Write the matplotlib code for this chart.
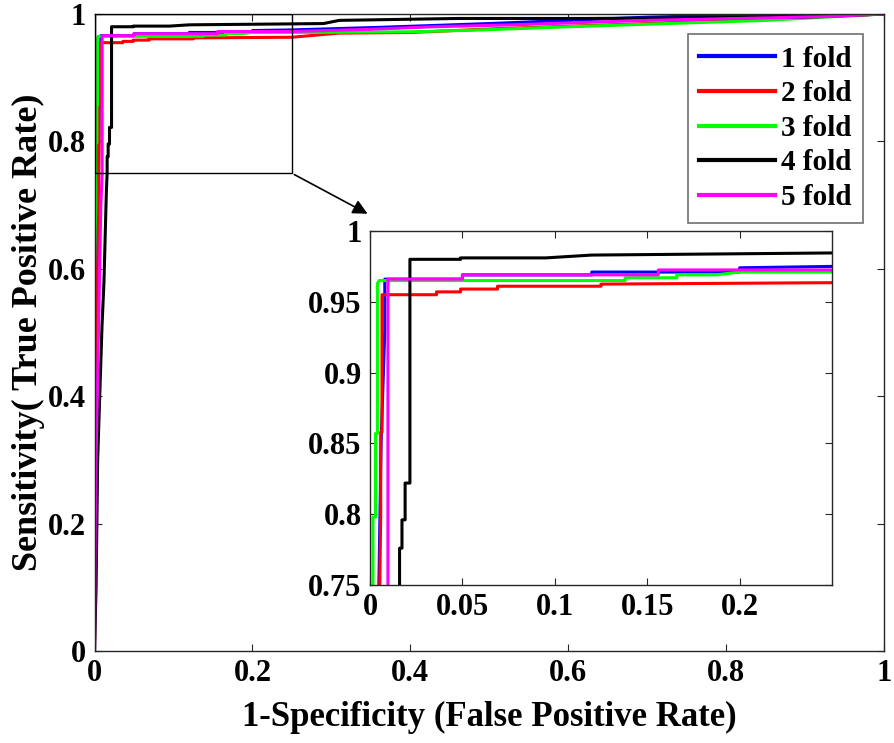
import matplotlib
matplotlib.use("Agg")
import matplotlib.pyplot as plt
from matplotlib.patches import Rectangle

plt.rcParams['font.family'] = ['Liberation Serif', 'DejaVu Serif']
plt.rcParams['font.weight'] = 'bold'

fold_labels = ['1 fold', '2 fold', '3 fold', '4 fold', '5 fold']
fold_colors = ['#0000ff', '#ff0000', '#00ff00', '#000000', '#ff00ff']

fpr_1 = [0, 0.001, 0.003, 0.006, 0.008, 0.008, 0.05, 0.05, 0.12, 0.12, 0.2, 0.2, 0.25, 0.36, 0.5, 0.7, 0.8, 1.0]
tpr_1 = [0, 0.3, 0.6, 0.85, 0.93, 0.966, 0.966, 0.969, 0.969, 0.971, 0.971, 0.974, 0.975, 0.979, 0.985, 0.995, 0.998, 1.0]

fpr_2 = [0, 0.001, 0.003, 0.005, 0.0058, 0.0058, 0.0065, 0.0065, 0.036, 0.036, 0.049, 0.049, 0.069, 0.069, 0.125, 0.125, 0.25, 0.31, 0.40, 0.51, 0.7, 0.9, 1.0]
tpr_2 = [0, 0.15, 0.5, 0.72, 0.8, 0.858, 0.858, 0.955, 0.955, 0.957, 0.957, 0.959, 0.959, 0.961, 0.961, 0.9625, 0.9635, 0.97, 0.971, 0.977, 0.985, 0.995, 1.0]

fpr_3 = [0, 0, 0.0016, 0.0016, 0.003, 0.003, 0.004, 0.004, 0.005, 0.138, 0.138, 0.166, 0.166, 0.187, 0.2, 0.25, 0.4, 0.49, 0.6, 0.85, 1.0]
tpr_3 = [0, 0.6, 0.7, 0.798, 0.798, 0.857, 0.857, 0.963, 0.965, 0.965, 0.967, 0.967, 0.969, 0.969, 0.971, 0.971, 0.972, 0.975, 0.98, 0.99, 1.0]

fpr_4 = [0, 0.002, 0.004, 0.0095, 0.012, 0.015, 0.016, 0.016, 0.0173, 0.0173, 0.019, 0.019, 0.0216, 0.0216, 0.049, 0.049, 0.095, 0.12, 0.25, 0.29, 0.31, 0.46, 0.62, 0.9, 1.0]
tpr_4 = [0, 0.1, 0.3, 0.51, 0.58, 0.72, 0.75, 0.776, 0.776, 0.796, 0.796, 0.822, 0.822, 0.98, 0.98, 0.981, 0.981, 0.983, 0.9845, 0.985, 0.99, 0.993, 0.993, 0.995, 1.0]

fpr_5 = [0, 0.001, 0.002, 0.005, 0.008, 0.0097, 0.0097, 0.05, 0.05, 0.156, 0.156, 0.25, 0.35, 0.43, 0.53, 0.70, 0.93, 1.0]
tpr_5 = [0, 0.2, 0.3, 0.5, 0.7, 0.75, 0.966, 0.966, 0.969, 0.969, 0.9725, 0.9725, 0.976, 0.98, 0.983, 0.99, 0.996, 1.0]

fprs = [fpr_1, fpr_2, fpr_3, fpr_4, fpr_5]
tprs = [tpr_1, tpr_2, tpr_3, tpr_4, tpr_5]

main_ticks = [0, 0.2, 0.4, 0.6, 0.8, 1]
main_ticklabels = ['0', '0.2', '0.4', '0.6', '0.8', '1']
inset_xticks = [0, 0.05, 0.1, 0.15, 0.2]
inset_xticklabels = ['0', '0.05', '0.1', '0.15', '0.2']
inset_yticks = [0.75, 0.8, 0.85, 0.9, 0.95, 1]
inset_yticklabels = ['0.75', '0.8', '0.85', '0.9', '0.95', '1']

W, H = 894, 743
fig = plt.figure(figsize=(W / 100, H / 100), dpi=100)

def px_axes(l, r, t, b):
    return [l / W, 1 - b / H, (r - l) / W, (b - t) / H]

spine_col = '#262626'
fs = 22

def style(ax):
    for s in ax.spines.values():
        s.set_color(spine_col)
        s.set_linewidth(1.0)
    ax.tick_params(direction='in', top=True, right=True, length=5, width=0.8,
                   color=spine_col, labelsize=fs, pad=6)
    for lab in ax.get_xticklabels() + ax.get_yticklabels():
        lab.set_fontweight('bold')

ax = fig.add_axes(px_axes(94.5, 884, 14, 651))
for f, t, c, lab in zip(fprs, tprs, fold_colors, fold_labels):
    ax.plot(f, t, color=c, lw=2.2, label=lab)
ax.set_xlim(0, 1)
ax.set_ylim(0, 1)
ax.set_xticks(main_ticks)
ax.set_xticklabels(main_ticklabels)
ax.set_yticks(main_ticks)
ax.set_yticklabels(main_ticklabels)
style(ax)
ax.set_xlabel('1-Specificity (False Positive Rate)', fontsize=25, fontweight='bold', labelpad=9)
ax.set_ylabel('Sensitivity( True Positive Rate)', fontsize=26, fontweight='bold', labelpad=2)

ax.add_patch(Rectangle((0, 0.75), 0.25, 0.25, fill=False, edgecolor='black', lw=1.0, zorder=5))

leg = ax.legend(loc='upper right', bbox_to_anchor=(863 / W, 1 - 34 / H), bbox_transform=fig.transFigure,
                borderaxespad=0, fancybox=False, edgecolor='#707070', framealpha=1,
                prop={'family': 'Liberation Serif', 'weight': 'bold', 'size': 21},
                handlelength=2.6, handletextpad=0.2, labelspacing=0.26, borderpad=0.4)
leg.get_frame().set_linewidth(1.2)
for line in leg.get_lines():
    line.set_linewidth(3)

axi = fig.add_axes(px_axes(370, 832, 231, 585))
for f, t, c in zip(fprs, tprs, fold_colors):
    axi.plot(f, t, color=c, lw=2.2)
axi.set_xlim(0, 0.25)
axi.set_ylim(0.75, 1)
axi.set_xticks(inset_xticks)
axi.set_xticklabels(inset_xticklabels)
axi.set_yticks(inset_yticks)
axi.set_yticklabels(inset_yticklabels)
style(axi)

ax.annotate('', xy=(0.0, 1.045), xycoords=axi.transAxes,
            xytext=(0.25, 0.75), textcoords=ax.transData,
            arrowprops=dict(arrowstyle='-|>', color='black', lw=1.2, mutation_scale=22))

fig.savefig('out.png', dpi=100)
